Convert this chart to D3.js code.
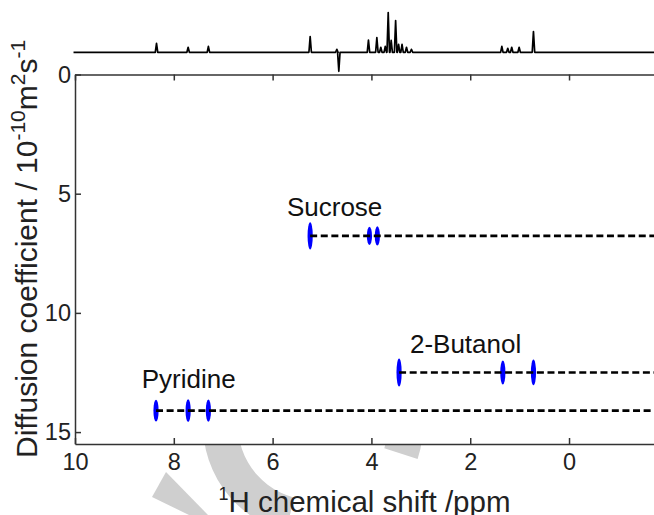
<!DOCTYPE html>
<html>
<head>
<meta charset="utf-8">
<script src="https://cdn.jsdelivr.net/npm/d3@7"></script>
<style>
  body { margin: 0; background: #fff; }
  svg { display: block; font-family: "Liberation Sans", Arial, sans-serif; }
  .axis path, .axis line { stroke: #333; stroke-width: 1.5; }
  .axis text { fill: #222; font-size: 23.5px; font-family: "Liberation Sans", Arial, sans-serif; }
</style>
</head>
<body>
<div id="chart"></div>
<script>
// Axis ticks
const ppmTicks = [10, 8, 6, 4, 2, 0];
const dTicks = [0, 5, 10, 15];

// Compounds: diffusion coefficient (10^-10 m2/s) and the 1H peaks they own
const compounds = ["Sucrose", "2-Butanol", "Pyridine"];
const compoundD = [6.77, 12.5, 14.1];
const compoundPeaks = [[5.24, 4.04, 3.88], [3.44, 1.34, 0.72], [8.36, 7.71, 7.30]];
// half spread of each fitted peak along the diffusion axis
const peakSpread = [[0.57, 0.38, 0.4], [0.59, 0.5, 0.54], [0.46, 0.48, 0.47]];
// where the compound names sit (ppm, D)
const labelPpm = [5.71, 3.22, 8.65];
const labelD = [5.94, 11.69, 13.16];

// 1D spectrum on top: peak positions and intensities (negative = inverted HDO)
const specPpm = [8.35, 7.71, 7.30, 5.24, 4.70, 4.66, 4.06, 3.89, 3.81, 3.72, 3.66, 3.60, 3.51, 3.45, 3.38, 3.29, 3.19, 1.36, 1.24, 1.16, 1.01, 0.72];
const specInt = [9, 5, 6, 15.7, 3, -19, 12.3, 14.7, 5, 6, 39.7, 12, 31.7, 8, 8, 5, 3, 6, 4, 5, 5, 20.7];

const width = 654;
const height = 515;
const margin = { top: 74.5, right: 0, bottom: 71, left: 75 };

const svg = d3.select("#chart").append("svg")
    .attr("width", width)
    .attr("height", height);

// Faint watermark behind everything
const wm = svg.append("g").attr("fill", "#cfcfcf");
wm.append("path")
    .attr("transform", "translate(313,425)")
    .attr("d", d3.arc()({ innerRadius: 75, outerRadius: 110, startAngle: 1.08 * Math.PI, endAngle: 2.6 * Math.PI }));
wm.append("path")
    .attr("d", "M152,497 L166,472 L208,515 L189,515 Z");

const x = d3.scaleLinear()
    .domain([10, -1.72])
    .range([margin.left, width - margin.right]);

const y = d3.scaleLinear()
    .domain([0, 15.5])
    .range([margin.top, height - margin.bottom]);

// Plot background hides the watermark inside the box
svg.append("rect")
    .attr("x", margin.left)
    .attr("y", margin.top)
    .attr("width", width - margin.left - margin.right)
    .attr("height", height - margin.top - margin.bottom)
    .attr("fill", "#fff");

// Spectrum
const specY = d3.scaleLinear().domain([0, 40]).range([52.3, 12.3]);
const hw = 0.025;
const specPts = [[10.03, 0]];
d3.range(specPpm.length)
    .sort((a, b) => specPpm[b] - specPpm[a])
    .forEach(i => {
        specPts.push([specPpm[i] + hw, 0], [specPpm[i], specInt[i]], [specPpm[i] - hw, 0]);
    });
specPts.push([-1.8, 0]);

svg.append("path")
    .datum(specPts)
    .attr("fill", "none")
    .attr("stroke", "#000")
    .attr("stroke-width", 1.7)
    .attr("stroke-linejoin", "round")
    .attr("d", d3.line().x(d => x(d[0])).y(d => specY(d[1])));

// Axes (box style, ticks inward)
svg.append("g")
    .attr("class", "axis")
    .attr("transform", `translate(0,${height - margin.bottom})`)
    .call(d3.axisBottom(x).tickValues(ppmTicks).tickFormat(d3.format("d")).tickSizeInner(-6).tickSizeOuter(0).tickPadding(9));

svg.append("g")
    .attr("class", "axis")
    .attr("transform", `translate(0,${margin.top})`)
    .call(d3.axisTop(x).tickValues(ppmTicks).tickFormat("").tickSizeInner(-6).tickSizeOuter(0));

svg.append("g")
    .attr("class", "axis")
    .attr("transform", `translate(${margin.left},0)`)
    .call(d3.axisLeft(y).tickValues(dTicks).tickSizeInner(-6).tickSizeOuter(0).tickPadding(4));

// Peaks and dashed lines per compound
const groups = svg.append("g").selectAll("g")
    .data(compounds)
    .enter().append("g");

groups.selectAll("ellipse")
    .data((c, i) => compoundPeaks[i].map((p, j) => ({ p, d: compoundD[i], s: peakSpread[i][j] })))
    .enter().append("ellipse")
    .attr("cx", d => x(d.p))
    .attr("cy", d => y(d.d))
    .attr("rx", 2.6)
    .attr("ry", d => y(d.s) - y(0))
    .attr("fill", "#0000ff");

groups.append("line")
    .attr("x1", (c, i) => x(d3.max(compoundPeaks[i])))
    .attr("x2", width)
    .attr("y1", (c, i) => y(compoundD[i]))
    .attr("y2", (c, i) => y(compoundD[i]))
    .attr("stroke", "#000")
    .attr("stroke-width", 2.6)
    .attr("stroke-dasharray", "7,3.6");

groups.append("text")
    .attr("x", (c, i) => x(labelPpm[i]))
    .attr("y", (c, i) => y(labelD[i]))
    .attr("font-size", 26)
    .attr("fill", "#111")
    .text(c => c);

// Axis titles
const xt = svg.append("text")
    .attr("x", (margin.left + width - margin.right) / 2)
    .attr("y", 512)
    .attr("text-anchor", "middle")
    .attr("font-size", 29.5)
    .attr("fill", "#222");
xt.append("tspan").attr("font-size", 18).attr("dy", -12).text("1");
xt.append("tspan").attr("dy", 12).text("H chemical shift /ppm");

const yt = svg.append("text")
    .attr("transform", "translate(37,458) rotate(-90)")
    .attr("font-size", 30)
    .attr("fill", "#222");
yt.append("tspan").text("Diffusion coefficient / 10");
yt.append("tspan").attr("font-size", 21).attr("dy", -12).text("-10");
yt.append("tspan").attr("dy", 12).text("m");
yt.append("tspan").attr("font-size", 21).attr("dy", -12).text("2");
yt.append("tspan").attr("dy", 12).text("s");
yt.append("tspan").attr("font-size", 21).attr("dy", -12).text("-1");
</script>
</body>
</html>
